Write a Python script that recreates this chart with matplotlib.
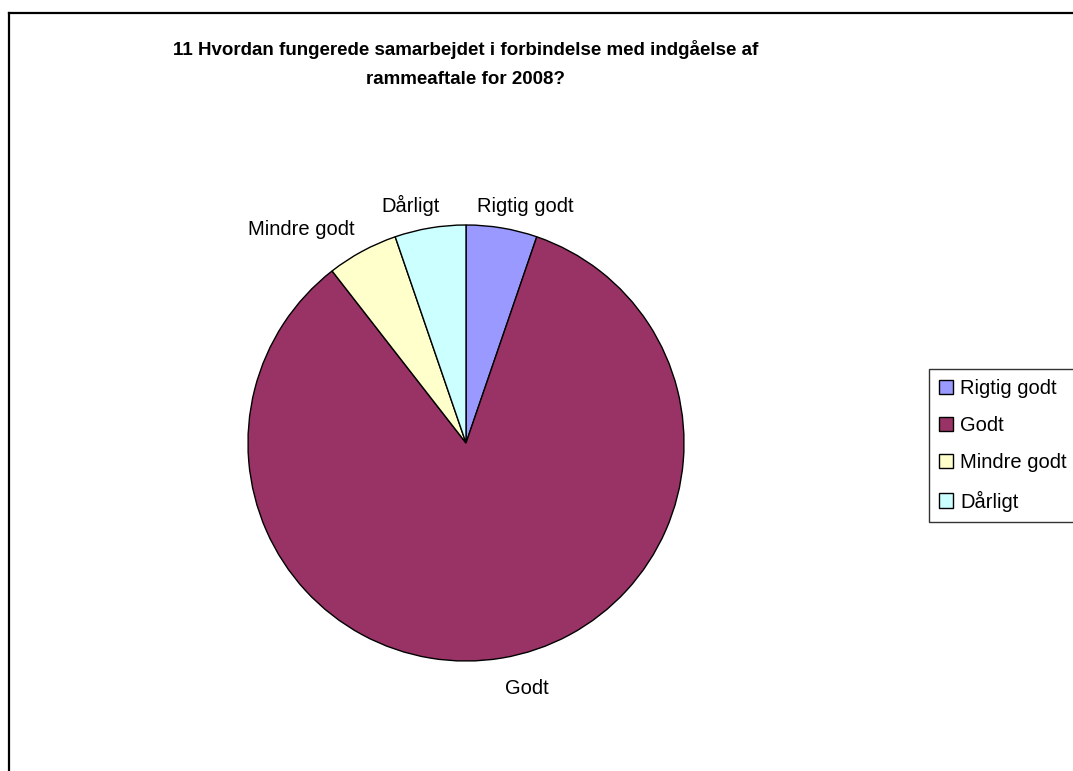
import matplotlib.pyplot as plt
from matplotlib.lines import Line2D

plt.rcParams['font.family'] = ['Liberation Sans', 'DejaVu Sans']

categories = ['Rigtig godt', 'Godt', 'Mindre godt', 'Dårligt']
counts = [1, 16, 1, 1]
colors = ['#9999FF', '#993366', '#FFFFCC', '#CCFFFF']
title = '11 Hvordan fungerede samarbejdet i forbindelse med indgåelse af\nrammeaftale for 2008?'

W, H = 1073, 771
fig = plt.figure(figsize=(W / 100, H / 100), dpi=100)

# chart area frame (left and top visible, right/bottom run off the picture)
fig.add_artist(Line2D([9 / W, 9 / W], [0, 1 - 13 / H], color='black', lw=1.6,
                      transform=fig.transFigure))
fig.add_artist(Line2D([9 / W, 1], [1 - 13 / H, 1 - 13 / H], color='black', lw=1.6,
                      transform=fig.transFigure))

cx, cy, r = 466, 443, 218
ax = fig.add_axes([(cx - r) / W, (H - cy - r) / H, 2 * r / W, 2 * r / H])
wedges, texts = ax.pie(counts, colors=colors, labels=categories, startangle=90,
                       counterclock=False, radius=1.0, labeldistance=1.12,
                       wedgeprops=dict(edgecolor='black', linewidth=1.0),
                       textprops=dict(fontsize=14.5, ha='center', va='center'))
ax.set_xlim(-1, 1)
ax.set_ylim(-1, 1)
ax.set_aspect('equal')

# nudge labels the way Excel places them (axes units of radius)
nudges = {'Rigtig godt': (0.087, -0.018), 'Godt': (0.094, -0.021),
          'Mindre godt': (-0.222, -0.006), 'Dårligt': (-0.07, -0.016)}
for t in texts:
    x, y = t.get_position()
    dx, dy = nudges[t.get_text()]
    t.set_position((x + dx, y + dy))

fig.text(cx / W, 1 - 64 / H, title, ha='center', va='center', fontsize=13.5,
         fontweight='bold', linespacing=1.9)

leg = fig.legend(wedges, categories, loc='upper left', mode='expand',
                 bbox_to_anchor=(929 / W, 0, 200 / W, 1 - 369 / H), fontsize=14.5,
                 frameon=True, fancybox=False, edgecolor='black',
                 handlelength=0.7, handleheight=0.7, handletextpad=0.35,
                 labelspacing=0.9, borderpad=0.5, borderaxespad=0)
leg.get_frame().set_linewidth(1.0)

fig.savefig('out.png', dpi=100)
